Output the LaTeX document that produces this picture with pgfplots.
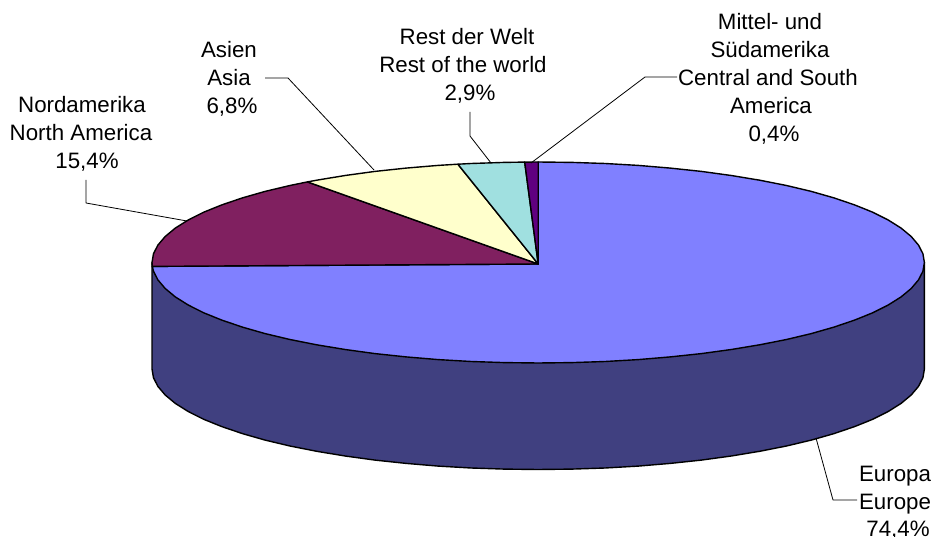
\documentclass[border=0pt]{standalone}
\usepackage{fontspec}
\setmainfont{Liberation Sans}
\usepackage{pgfplots}
\pgfplotsset{compat=1.18}
\definecolor{EuropeTop}{RGB}{128,128,255}
\definecolor{EuropeSide}{RGB}{64,64,128}
\definecolor{NorthAm}{RGB}{128,32,96}
\definecolor{AsiaCol}{RGB}{255,255,204}
\definecolor{RestCol}{RGB}{160,224,224}
\definecolor{SouthAm}{RGB}{96,0,128}
\tikzset{lab/.style={anchor=base, inner sep=0pt, font=\fontsize{22.3}{26}\selectfont}}
\begin{document}
\begin{tikzpicture}
\path[use as bounding box] (0,0) rectangle (935pt,537pt);
\begin{axis}[
  at={(0,0)}, anchor=south west,
  width=935pt, height=537pt, scale only axis,
  xmin=0, xmax=935, ymin=0, ymax=537, y dir=reverse,
  hide axis, clip=false,
  every axis plot/.append style={black, line width=1.4pt, line join=round},
]
% side of the disc (Europe only is visible)
\addplot[fill=EuropeSide] coordinates {
  (924.4,262.5)(924.4,369.0)(922.9,377.8)(918.5,386.4)(911.2,395.0)(901.1,403.4)(888.2,411.5)(872.7,419.3)
  (854.6,426.6)(834.0,433.6)(811.3,440.1)(786.5,446.0)(759.7,451.3)(731.3,456.0)(701.4,460.1)(670.3,463.4)
  (638.2,466.1)(605.2,468.0)(571.9,469.1)(538.2,469.5)(504.5,469.1)(471.2,468.0)(438.2,466.1)(406.1,463.4)
  (375.0,460.1)(345.1,456.0)(316.7,451.3)(289.9,446.0)(265.1,440.1)(242.4,433.6)(221.8,426.6)(203.7,419.3)
  (188.2,411.5)(175.3,403.4)(165.2,395.0)(157.9,386.4)(153.5,377.8)(152.0,369.0)(152.0,262.5)
} -- cycle;
% Europa 74,4%
\addplot[fill=EuropeTop] coordinates {
  (538.2,264.0)(538.2,162.0)(571.9,162.4)(605.2,163.5)(638.2,165.4)(670.3,168.1)(701.4,171.4)(731.3,175.5)
  (759.7,180.2)(786.5,185.5)(811.3,191.4)(834.0,197.9)(854.6,204.9)(872.7,212.2)(888.2,220.0)(901.1,228.1)
  (911.2,236.5)(918.5,245.1)(922.9,253.7)(924.4,262.5)(922.9,271.3)(918.5,279.9)(911.2,288.5)(901.1,296.9)
  (888.2,305.0)(872.7,312.8)(854.6,320.1)(834.0,327.1)(811.3,333.6)(786.5,339.5)(759.7,344.8)(731.3,349.5)
  (701.4,353.6)(670.3,356.9)(638.2,359.6)(605.2,361.5)(571.9,362.6)(538.2,363.0)(504.5,362.6)(471.2,361.5)
  (438.2,359.6)(406.1,356.9)(375.0,353.6)(345.1,349.5)(316.7,344.8)(289.9,339.5)(265.1,333.6)(242.4,327.1)
  (221.8,320.1)(203.7,312.8)(188.2,305.0)(175.3,296.9)(165.2,288.5)(157.9,279.9)(153.5,271.3)(152.3,266.4)
} -- cycle;
% Nordamerika 15,4%
\addplot[fill=NorthAm] coordinates {
  (538.2,264.0)(152.3,266.4)(152.0,262.5)(153.5,253.7)(157.9,245.1)(165.2,236.5)(175.3,228.1)(188.2,220.0)
  (203.7,212.2)(221.8,204.9)(242.4,197.9)(265.1,191.4)(289.9,185.5)(307.4,181.9)
} -- cycle;
% Asien 6,8%
\addplot[fill=AsiaCol] coordinates {
  (538.2,264.0)(307.4,181.9)(316.7,180.2)(345.1,175.5)(375.0,171.4)(406.1,168.1)(438.2,165.4)(457.9,164.2)
} -- cycle;
% Rest der Welt 2,9%
\addplot[fill=RestCol] coordinates {
  (538.2,264.0)(457.9,164.2)(471.2,163.5)(504.5,162.4)(524.7,162.1)
} -- cycle;
% Mittel- und Suedamerika 0,4%
\addplot[fill=SouthAm] coordinates {
  (538.2,264.0)(524.7,162.1)(538.2,162.0)
} -- cycle;
% leader lines
\addplot[line width=0.8pt] coordinates {(86,180)(86,203)(187,221)};
\addplot[line width=0.8pt] coordinates {(265,78)(288,78)(374,170)};
\addplot[line width=0.8pt] coordinates {(470,112)(470,136)(491,163)};
\addplot[line width=0.8pt] coordinates {(677,77)(645,77)(531,163)};
\addplot[line width=0.8pt] coordinates {(816,438)(833,500)(857,500)};
% labels
\node[lab] at (axis cs:82,113) {Nordamerika};
\node[lab] at (axis cs:81,141) {North America};
\node[lab] at (axis cs:87,169) {15,4\%};
\node[lab] at (axis cs:229,58) {Asien};
\node[lab] at (axis cs:229,86) {Asia};
\node[lab] at (axis cs:232,114) {6,8\%};
\node[lab] at (axis cs:467,45) {Rest der Welt};
\node[lab] at (axis cs:463,73) {Rest of the world};
\node[lab] at (axis cs:470,101) {2,9\%};
\node[lab] at (axis cs:770,30) {Mittel- und};
\node[lab] at (axis cs:770,58) {Südamerika};
\node[lab] at (axis cs:768,86) {Central and South};
\node[lab] at (axis cs:771,114) {America};
\node[lab] at (axis cs:774,142) {0,4\%};
\node[lab] at (axis cs:895,481) {Europa};
\node[lab] at (axis cs:895,509) {Europe};
\node[lab] at (axis cs:898,536.5) {74,4\%};
\end{axis}
\end{tikzpicture}
\end{document}
